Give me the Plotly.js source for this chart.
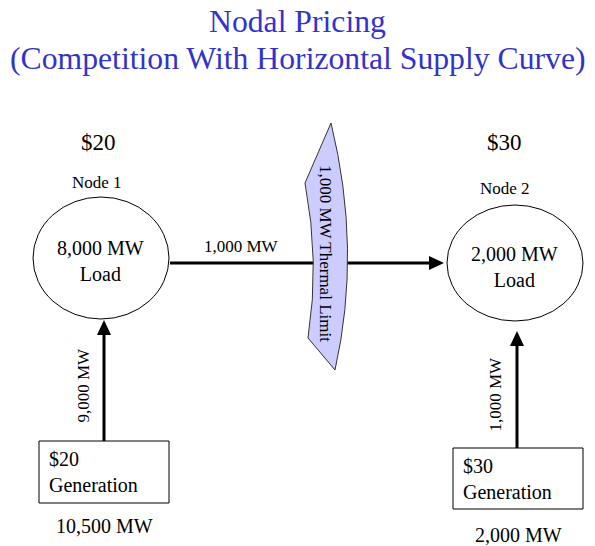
<!DOCTYPE html>
<html>
<head>
<meta charset="utf-8">
<script src="https://cdn.plot.ly/plotly-3.0.1.min.js"></script>
<style>html,body{margin:0;padding:0;background:#fff;}#chart{width:595px;height:546px;}</style>
</head>
<body>
<div id="chart"></div>
<script>
// ---- data ----
const titleLines = ["Nodal Pricing", "(Competition With Horizontal Supply Curve)"];
const nodeNames = ["Node 1", "Node 2"];
const nodePrices = ["$20", "$30"];
const nodeLoads = ["8,000 MW", "2,000 MW"];
const genPrices = ["$20", "$30"];
const genCapacities = ["10,500 MW", "2,000 MW"];
const genFlows = ["9,000 MW", "1,000 MW"];
const lineFlow = "1,000 MW";
const thermalLimit = "1,000 MW Thermal Limit";

// ---- layout geometry (pixel space) ----
const FONT = "Liberation Serif, Times New Roman, serif";
const nodeGeo = [
  {cx: 101, cy: 258, rx: 68, ry: 61, textY: 261, priceY: 142, nameY: 182, nameX: 97, priceX: 98},
  {cx: 515, cy: 263, rx: 68, ry: 58, textY: 267, priceY: 142, nameY: 188, nameX: 505, priceX: 504}
];
const genGeo = [
  {x0: 39, x1: 169, y0: 441, y1: 503, arrowX: 104, tipY: 320, capY: 526, flowX: 83},
  {x0: 453, x1: 583, y0: 448, y1: 509, arrowX: 517, tipY: 331, capY: 535, flowX: 495}
];

const shapes = [];
const annotations = [];

function txt(x, y, t, size, opts) {
  annotations.push(Object.assign({
    x: x, y: y, xref: 'x', yref: 'y', text: t, showarrow: false,
    font: {family: FONT, size: size, color: '#000'}
  }, opts || {}));
}
function arrowHead(tipX, tipY, dir) {
  const L = 15, W = 7;
  let p;
  if (dir === 'right') p = `M${tipX},${tipY} L${tipX - L},${tipY - W} L${tipX - L},${tipY + W} Z`;
  else p = `M${tipX},${tipY} L${tipX - W},${tipY + L} L${tipX + W},${tipY + L} Z`;
  shapes.push({type: 'path', xref: 'x', yref: 'y', path: p, fillcolor: '#000', line: {width: 0}});
}

// title
titleLines.forEach((t, i) => txt(297.5, 21 + i * 37, t, 31.7, {font: {family: FONT, size: 31.7, color: '#3333cc'}}));

// horizontal line arrow (node 1 -> node 2)
shapes.push({type: 'line', xref: 'x', yref: 'y', x0: 170, y0: 263, x1: 432, y1: 263, line: {color: '#000', width: 3}});
arrowHead(444, 263, 'right');
txt(241, 246, lineFlow, 17);

// thermal limit banner
shapes.push({type: 'path', xref: 'x', yref: 'y',
  path: 'M331,123 L305,183 Q320,262 308,338 L335,370 Q362,250 331,123 Z',
  fillcolor: '#ccccff', line: {color: '#333', width: 1}});
txt(326, 253, thermalLimit, 17, {textangle: 90});

// nodes
nodeGeo.forEach((g, i) => {
  shapes.push({type: 'circle', xref: 'x', yref: 'y', x0: g.cx - g.rx, x1: g.cx + g.rx, y0: g.cy - g.ry, y1: g.cy + g.ry,
    line: {color: '#000', width: 1}, fillcolor: 'rgba(0,0,0,0)'});
  txt(g.priceX, g.priceY, nodePrices[i], 23);
  txt(g.nameX, g.nameY, nodeNames[i], 17);
  txt(g.cx - 1, g.textY, nodeLoads[i] + '<br>Load', 20);
});

// generators
genGeo.forEach((g, i) => {
  shapes.push({type: 'rect', xref: 'x', yref: 'y', x0: g.x0, x1: g.x1, y0: g.y0, y1: g.y1,
    line: {color: '#000', width: 1}, fillcolor: '#fff'});
  shapes.push({type: 'line', xref: 'x', yref: 'y', x0: g.arrowX, x1: g.arrowX, y0: g.y0, y1: g.tipY + 12,
    line: {color: '#000', width: 3}});
  arrowHead(g.arrowX, g.tipY, 'up');
  txt(g.x0 + 8, (g.y0 + g.y1) / 2, genPrices[i] + '<br>Generation', 20, {xanchor: 'left', align: 'left'});
  txt((g.x0 + g.x1) / 2, g.capY, genCapacities[i], 20);
  txt(g.flowX, (g.y0 + g.tipY) / 2 + 5, genFlows[i], 17, {textangle: -90});
});

const layout = {
  width: 595, height: 546,
  margin: {l: 0, r: 0, t: 0, b: 0},
  paper_bgcolor: '#fff', plot_bgcolor: '#fff',
  xaxis: {range: [0, 595], visible: false, fixedrange: true},
  yaxis: {range: [546, 0], visible: false, fixedrange: true},
  showlegend: false,
  shapes: shapes,
  annotations: annotations
};
Plotly.newPlot('chart', [{x: [0], y: [0], mode: 'markers', marker: {opacity: 0}, hoverinfo: 'skip'}], layout, {staticPlot: true});
</script>
</body>
</html>
